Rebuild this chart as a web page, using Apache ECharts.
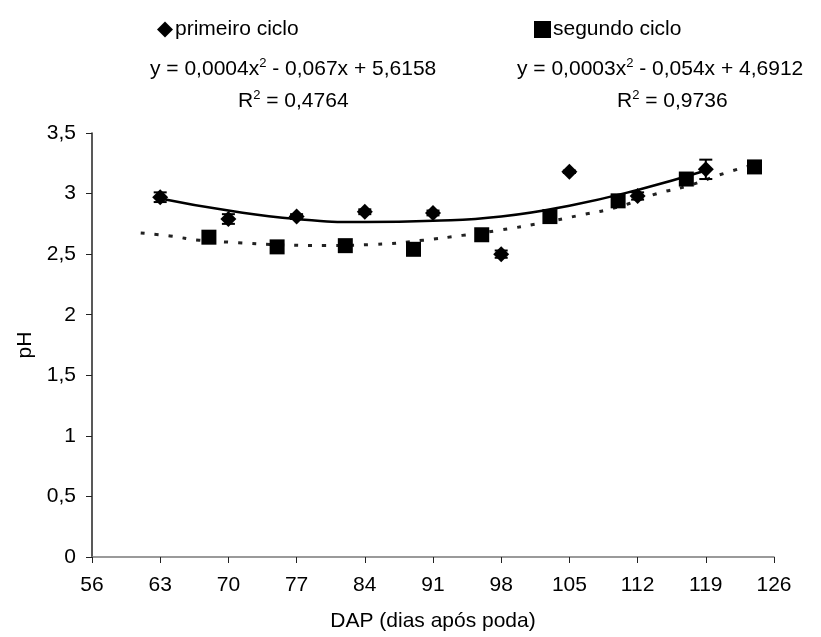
<!DOCTYPE html>
<html>
<head>
<meta charset="utf-8">
<title>pH - DAP</title>
<script src="https://cdn.jsdelivr.net/npm/echarts@6/dist/echarts.min.js"></script>
<style>
  html, body { margin: 0; padding: 0; background: #fff; }
  #ph_dap_chart { width: 821px; height: 637px; }
</style>
</head>
<body>
<div id="ph_dap_chart"></div>
<script>
// Data
// ------------------------------

// primeiro ciclo (pontos medios e erro)
var dapCiclo1 = [63, 70, 77, 84, 91, 98, 105, 112, 119];
var phCiclo1 = [2.97, 2.79, 2.81, 2.85, 2.84, 2.5, 3.18, 2.98, 3.2];
var erroCiclo1 = [0.04, 0.04, 0.02, 0.02, 0.02, 0.03, 0.01, 0.03, 0.08];

// segundo ciclo
var dapCiclo2 = [68, 75, 82, 89, 96, 103, 110, 117, 124];
var phCiclo2 = [2.64, 2.56, 2.57, 2.54, 2.66, 2.81, 2.94, 3.12, 3.22];

// linhas de tendencia
var tendDap1 = [63, 70, 77, 84, 91, 98, 105, 112, 119];
var tendPh1 = [2.96, 2.86, 2.79, 2.765, 2.775, 2.81, 2.9, 3.03, 3.19];
var tendDap2 = [61, 64, 67, 71, 75, 80, 85, 90, 94, 98, 102, 106, 110, 114, 117, 121, 124];
var tendPh2 = [2.675, 2.65, 2.615, 2.595, 2.578, 2.572, 2.58, 2.615, 2.655, 2.7, 2.755, 2.82, 2.89, 3.0, 3.06, 3.17, 3.24];

// Setup module
// ------------------------------

var phDapChart = (function () {
  var zip = function (xs, ys) {
    return xs.map(function (x, i) {
      return [x, ys[i]];
    });
  };

  var phDapChartExample = function () {
    if (typeof echarts == "undefined") {
      console.warn("Warning - echarts.min.js is not loaded.");
      return;
    }

    var ph_dap_element = document.getElementById("ph_dap_chart");
    if (!ph_dap_element) return;

    var ph_dap = echarts.init(ph_dap_element);
    var fonte = "'Liberation Sans', Arial, sans-serif";

    var supRich = {
      sup: { fontSize: 13, fontFamily: fonte, color: "#000", verticalAlign: "top", padding: [0, 0, 12, 0] },
    };

    ph_dap.setOption({
      animation: false,
      backgroundColor: "#fff",

      textStyle: {
        fontFamily: fonte,
        fontSize: 21,
        color: "#000",
      },

      // Legendas separadas
      legend: [
        {
          data: [{ name: "primeiro ciclo", icon: "diamond" }],
          left: 152,
          top: 14,
          itemWidth: 16,
          itemHeight: 16,
          textStyle: { fontSize: 21, fontFamily: fonte, color: "#000", padding: [0, 0, 0, -3] },
          selectedMode: false,
        },
        {
          data: [{ name: "segundo ciclo", icon: "rect" }],
          left: 529,
          top: 14,
          itemWidth: 17,
          itemHeight: 17,
          textStyle: { fontSize: 21, fontFamily: fonte, color: "#000", padding: [0, 0, 0, -3] },
          selectedMode: false,
        },
      ],

      // Equacoes
      graphic: [
        {
          type: "text",
          left: 150,
          top: 57,
          style: {
            text: "y = 0,0004x{sup|2} - 0,067x + 5,6158",
            fontSize: 21,
            fontFamily: fonte,
            fill: "#000",
            rich: supRich,
          },
        },
        {
          type: "text",
          left: 238,
          top: 89,
          style: {
            text: "R{sup|2} = 0,4764",
            fontSize: 21,
            fontFamily: fonte,
            fill: "#000",
            rich: supRich,
          },
        },
        {
          type: "text",
          left: 517,
          top: 57,
          style: {
            text: "y = 0,0003x{sup|2} - 0,054x + 4,6912",
            fontSize: 21,
            fontFamily: fonte,
            fill: "#000",
            rich: supRich,
          },
        },
        {
          type: "text",
          left: 617,
          top: 89,
          style: {
            text: "R{sup|2} = 0,9736",
            fontSize: 21,
            fontFamily: fonte,
            fill: "#000",
            rich: supRich,
          },
        },
      ],

      grid: {
        left: 92,
        right: 47,
        top: 133,
        bottom: 80,
      },

      xAxis: {
        type: "value",
        min: 56,
        max: 126,
        interval: 7,
        name: "DAP (dias após poda)",
        nameLocation: "middle",
        nameGap: 54,
        nameTextStyle: { fontSize: 21, fontFamily: fonte, color: "#000" },
        axisLine: { lineStyle: { color: "#7a7a7a", width: 1.5 } },
        axisTick: { length: 6, lineStyle: { color: "#222" } },
        axisLabel: { margin: 18, fontSize: 21, color: "#000", fontFamily: fonte },
        splitLine: { show: false },
      },

      yAxis: {
        type: "value",
        min: 0,
        max: 3.5,
        interval: 0.5,
        name: "pH",
        nameLocation: "middle",
        nameGap: 46,
        nameTextStyle: { fontSize: 21, fontFamily: fonte, color: "#000" },
        axisLine: { show: true, lineStyle: { color: "#222", width: 1.5 } },
        axisTick: { show: true, length: 6, lineStyle: { color: "#222" } },
        axisLabel: {
          margin: 16,
          fontSize: 21,
          color: "#000",
          fontFamily: fonte,
          formatter: function (v) {
            return String(v).replace(".", ",");
          },
        },
        splitLine: { show: false },
      },

      series: [
        // Tendencia primeiro ciclo
        {
          name: "tendencia 1",
          type: "line",
          data: zip(tendDap1, tendPh1),
          smooth: 0.5,
          showSymbol: false,
          lineStyle: { color: "#000", width: 2.5 },
          z: 1,
        },
        // Tendencia segundo ciclo
        {
          name: "tendencia 2",
          type: "line",
          data: zip(tendDap2, tendPh2),
          smooth: 0.5,
          showSymbol: false,
          lineStyle: { color: "#222", width: 3, type: [4, 10] },
          z: 1,
        },
        // Barras de erro
        {
          name: "erro 1",
          type: "custom",
          data: dapCiclo1.map(function (d, i) {
            return [d, phCiclo1[i] - erroCiclo1[i], phCiclo1[i] + erroCiclo1[i]];
          }),
          renderItem: function (params, api) {
            var baixo = api.coord([api.value(0), api.value(1)]);
            var alto = api.coord([api.value(0), api.value(2)]);
            var meia = 6.5;
            var estilo = { stroke: "#000", lineWidth: 2 };
            return {
              type: "group",
              children: [
                { type: "line", shape: { x1: baixo[0], y1: baixo[1], x2: alto[0], y2: alto[1] }, style: estilo },
                { type: "line", shape: { x1: baixo[0] - meia, y1: baixo[1], x2: baixo[0] + meia, y2: baixo[1] }, style: estilo },
                { type: "line", shape: { x1: alto[0] - meia, y1: alto[1], x2: alto[0] + meia, y2: alto[1] }, style: estilo },
              ],
            };
          },
          encode: { x: 0, y: [1, 2] },
          z: 2,
        },
        // Pontos
        {
          name: "primeiro ciclo",
          type: "scatter",
          symbol: "diamond",
          symbolSize: 16,
          data: zip(dapCiclo1, phCiclo1),
          itemStyle: { color: "#000", opacity: 1 },
          z: 3,
        },
        {
          name: "segundo ciclo",
          type: "scatter",
          symbol: "rect",
          symbolSize: 15,
          data: zip(dapCiclo2, phCiclo2),
          itemStyle: { color: "#000", opacity: 1 },
          z: 3,
        },
      ],
    });
  };

  return {
    init: function () {
      phDapChartExample();
    },
  };
})();

// Initialize module
// ------------------------------

document.addEventListener("DOMContentLoaded", function () {
  phDapChart.init();
});
</script>
</body>
</html>
